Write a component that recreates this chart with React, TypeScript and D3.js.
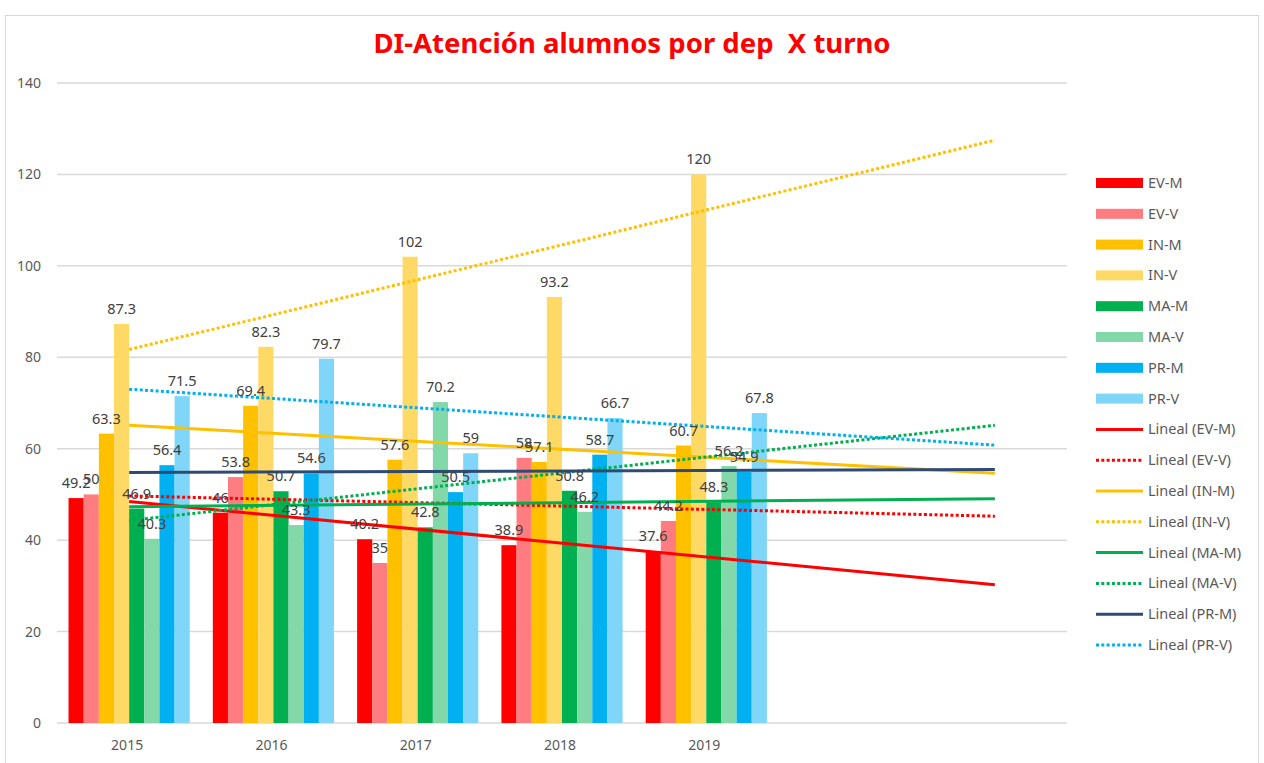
import { useEffect, useRef } from "react";
import * as d3 from "d3";

const years = ["2015", "2016", "2017", "2018", "2019"];
// two empty slots on the axis for the trendline forecast
const slots = ["2015", "2016", "2017", "2018", "2019", "f1", "f2"];
const seriesNames = ["EV-M", "EV-V", "IN-M", "IN-V", "MA-M", "MA-V", "PR-M", "PR-V"];
const evM = [49.2, 46, 40.2, 38.9, 37.6];
const evV = [50, 53.8, 35, 58, 44.2];
const inM = [63.3, 69.4, 57.6, 57.1, 60.7];
const inV = [87.3, 82.3, 102, 93.2, 120];
const maM = [46.9, 50.7, 42.8, 50.8, 48.3];
const maV = [40.3, 43.3, 70.2, 46.2, 56.2];
const prM = [56.4, 54.6, 50.5, 58.7, 54.9];
const prV = [71.5, 79.7, 59, 66.7, 67.8];
const yTicks = [0, 20, 40, 60, 80, 100, 120, 140];

const barColors = ["#FF0000", "#FF7C80", "#FFC000", "#FFD966", "#00B050", "#82D8A8", "#00B0F0", "#7FD6F8"];
const trendColors = ["#FF0000", "#FF0000", "#FFC000", "#FFC000", "#00B050", "#00B050", "#2F4B75", "#00B0F0"];

const FONT = "'Noto Sans', 'Open Sans', sans-serif";

export default function App() {
  const ref = useRef<SVGSVGElement>(null);

  useEffect(() => {
    const svg = d3.select(ref.current);
    svg.selectAll("*").remove();
    const values = [evM, evV, inM, inV, maM, maV, prM, prV];

    const left = 57, right = 1067, top = 83, bottom = 723;
    const x = d3.scaleBand().domain(slots).range([left, right]).paddingInner(0.16).paddingOuter(0.08);
    const xs = d3.scaleBand().domain(seriesNames).range([0, x.bandwidth()]);
    const y = d3.scaleLinear().domain([0, 140]).range([bottom, top]);

    svg.append("rect").attr("x", 5.5).attr("y", 15.5).attr("width", 1253).attr("height", 760)
      .attr("fill", "#fff").attr("stroke", "#d9d9d9");

    svg.append("text").attr("x", 632).attr("y", 53).attr("text-anchor", "middle")
      .attr("font-family", FONT).attr("font-weight", "bold").attr("font-size", 27.5)
      .style("white-space", "pre")
      .attr("fill", "#FF0000").text("DI-Atención alumnos por dep  X turno");

    // grid
    svg.append("g").selectAll("line").data(yTicks).join("line")
      .attr("x1", left).attr("x2", right).attr("y1", d => y(d)).attr("y2", d => y(d))
      .attr("stroke", "#d9d9d9").attr("stroke-width", 1.5);

    svg.append("g").selectAll("text").data(yTicks).join("text")
      .attr("x", 41).attr("y", d => y(d) + 5).attr("text-anchor", "end")
      .attr("font-family", FONT).attr("font-size", 14).attr("fill", "#595959").text(d => d);

    svg.append("g").selectAll("text").data(years).join("text")
      .attr("x", d => x(d)! + x.bandwidth() / 2 - 2).attr("y", 750).attr("text-anchor", "middle")
      .attr("font-family", FONT).attr("font-size", 14).attr("fill", "#595959").text(d => d);

    // bars
    const bars = svg.append("g");
    seriesNames.forEach((s, si) => {
      bars.selectAll(null).data(values[si]).join("rect")
        .attr("x", (_, i) => x(years[i])! + xs(s)!)
        .attr("width", xs.bandwidth())
        .attr("y", d => y(d))
        .attr("height", d => bottom - y(d))
        .attr("fill", barColors[si]);
    });

    // linear trendlines, forecast 2 periods forward
    const cx = (i: number) => x(years[0])! + x.bandwidth() / 2 + i * x.step();
    const trends = svg.append("g");
    seriesNames.forEach((s, si) => {
      const v = values[si];
      const n = v.length;
      const mx = d3.mean(v, (_, i) => i)!;
      const my = d3.mean(v)!;
      const slope = d3.sum(v, (d, i) => (i - mx) * (d - my)) / d3.sum(v, (_, i) => (i - mx) ** 2);
      const f = (i: number) => my + slope * (i - mx);
      const dotted = si % 2 === 1;
      trends.append("line")
        .attr("x1", cx(0)).attr("y1", y(f(0)))
        .attr("x2", cx(n + 1)).attr("y2", y(f(n + 1)))
        .attr("stroke", trendColors[si]).attr("stroke-width", 3)
        .attr("stroke-dasharray", dotted ? "3 2.3" : null);
    });

    // data labels
    const labels = svg.append("g").attr("font-family", FONT).attr("font-size", 14.5).attr("fill", "#404040");
    seriesNames.forEach((s, si) => {
      labels.selectAll(null).data(values[si]).join("text")
        .attr("x", (_, i) => x(years[i])! + xs(s)! + xs.bandwidth() / 2)
        .attr("y", d => y(d) - 10)
        .attr("text-anchor", "middle")
        .text(d => d);
    });

    // legend
    const legend = svg.append("g").attr("font-family", FONT).attr("font-size", 14.5).attr("fill", "#595959");
    const items = [
      ...seriesNames.map((s, i) => ({ label: s, kind: "bar", color: barColors[i] })),
      ...seriesNames.map((s, i) => ({ label: `Lineal (${s})`, kind: i % 2 ? "dot" : "line", color: trendColors[i] })),
    ];
    items.forEach((it, i) => {
      const ly = 183 + i * 30.8;
      const g = legend.append("g").attr("transform", `translate(1096, ${ly})`);
      if (it.kind === "bar") {
        g.append("rect").attr("x", 0).attr("y", -5).attr("width", 47).attr("height", 10).attr("fill", it.color);
      } else {
        g.append("line").attr("x1", 0).attr("x2", 47).attr("y1", 0).attr("y2", 0)
          .attr("stroke", it.color).attr("stroke-width", 3)
          .attr("stroke-dasharray", it.kind === "dot" ? "3 2.3" : null);
      }
      g.append("text").attr("x", 52).attr("y", 5).text(it.label);
    });
  }, []);

  return <svg ref={ref} width={1264} height={763} style={{ position: "absolute", left: 0, top: 0 }} />;
}
